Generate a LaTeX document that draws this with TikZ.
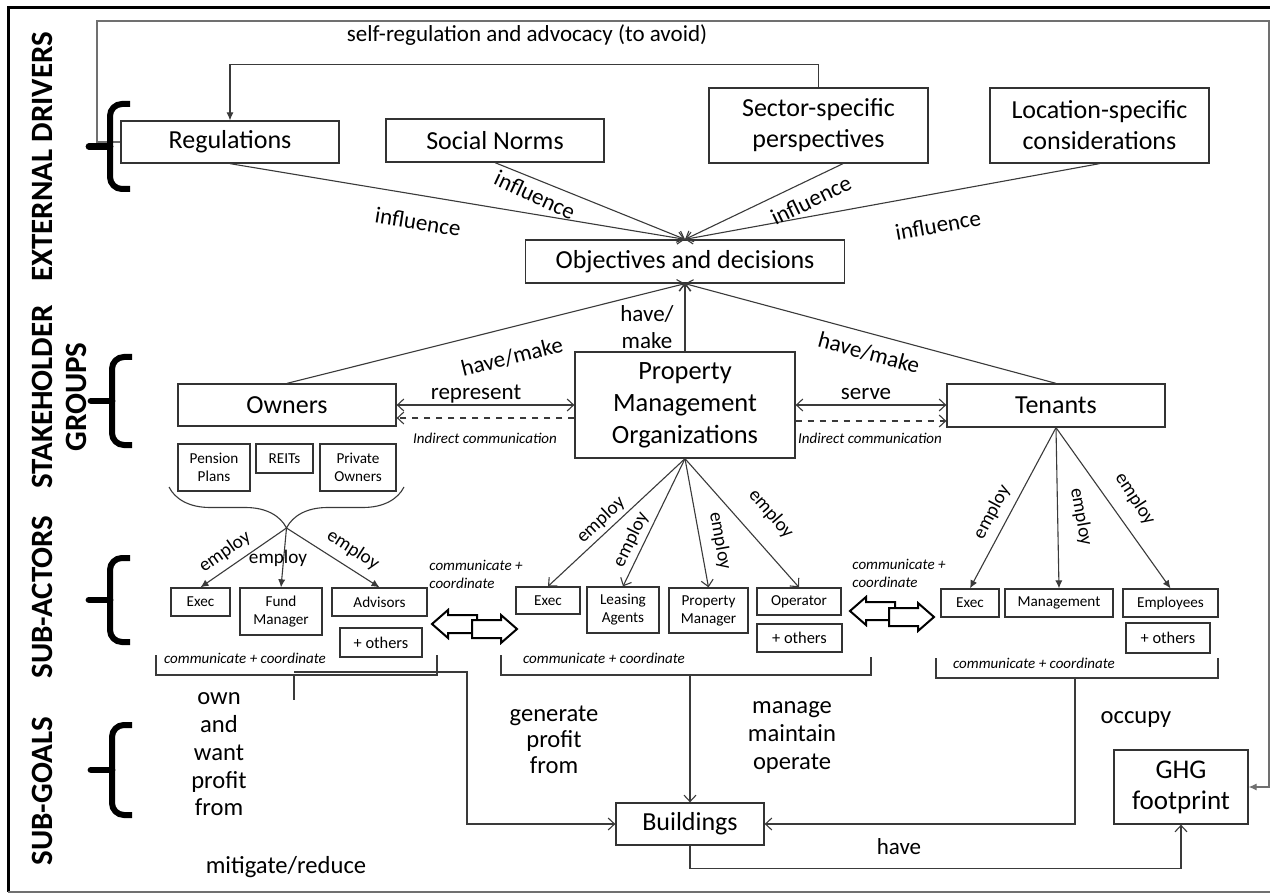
\documentclass[tikz,border=0pt]{standalone}
\usepackage{fontspec}
\setmainfont{Carlito}
\usetikzlibrary{arrows.meta,calc,decorations.pathreplacing}
\definecolor{boxc}{HTML}{333333}
\definecolor{edge}{HTML}{3A3A3A}
\definecolor{fbline}{HTML}{707070}
\begin{document}
\begin{tikzpicture}[x=0.5pt,y=-0.5pt,
  box/.style={draw=boxc, line width=0.65pt, inner sep=0pt, align=center,
    font=\fontsize{13}{15.5}\selectfont},
  sbox/.style={box, font=\fontsize{7.6}{9}\selectfont},
  obox/.style={box, font=\fontsize{8.2}{9.5}\selectfont},
  lbl/.style={inner sep=0pt, font=\fontsize{11.5}{13.5}\selectfont, align=center},
  emp/.style={inner sep=0pt, font=\fontsize{9.6}{11}\selectfont},
  itl/.style={inner sep=0pt, font=\fontsize{7.5}{9}\selectfont\itshape, align=left},
  goal/.style={inner sep=0pt, font=\fontsize{12.3}{14}\selectfont, align=center},
  side/.style={inner sep=0pt, rotate=90, align=center,
    font=\fontsize{15.5}{17}\selectfont\bfseries},
  conn/.style={draw=edge, line width=0.55pt},
  fb/.style={draw=fbline, line width=0.6pt},
  open/.style={-{Straight Barb[length=3.2pt,width=6pt]}},
  twoopen/.style={{Straight Barb[length=3.2pt,width=6pt]}-{Straight Barb[length=3.2pt,width=6pt]}},
  solid tip/.style={-{Latex[length=4pt,width=3.6pt]}},
  bracketline/.style={draw=edge, line width=0.6pt},
  rowbrace/.pic={
    \draw[black, line width=3pt, rounded corners=6pt]
      (20,-#1) -- (0,-#1) -- (0,#1) -- (20,#1);
    \draw[black, line width=3.4pt, line cap=round] (0,0) -- (-21,0);},
  blockarrow/.pic={\draw[black, line width=1pt, fill=white, line join=miter]
    (0,-9) -- (29,-9) -- (29,-14) -- (45,0) -- (29,14) -- (29,9) -- (0,9) -- cycle;}
]
\fill[white] (0,0) rectangle (1270,893);
\useasboundingbox (0,0) rectangle (1270,893);

% outer frame
\draw[black, line width=1.5pt] (1270,8) -- (8,8) -- (8,892);
\draw[fbline, line width=0.6pt] (8,892) -- (1270,892);

% row labels
\node[side] (lab1) at (42,157) {EXTERNAL DRIVERS};
\node[side] (lab2) at (59,397) {STAKEHOLDER\\GROUPS};
\node[side] (lab3) at (42,597) {SUB-ACTORS};
\node[side] (lab4) at (42,791) {SUB-GOALS};

% external drivers
\node[box, minimum width=109pt, minimum height=21pt] (reg) at (230,142) {Regulations};
\node[box, minimum width=109pt, minimum height=21.5pt] (soc) at (495,140.5) {Social Norms};
\node[box, minimum width=109.5pt, minimum height=37.5pt] (sec) at (818.5,125.5) {Sector-specific\\perspectives};
\node[box, minimum width=109.5pt, minimum height=37.5pt] (loc) at (1099.5,125.5) {Location-specific\\considerations};
\node[box, minimum width=159.5pt, minimum height=21.5pt] (obj) at (685,261.5) {Objectives and decisions};

% stakeholder groups
\node[box, minimum width=109pt, minimum height=21pt] (own) at (287,405) {Owners};
\node[box, minimum width=110pt, minimum height=53pt, font=\fontsize{13.2}{16}\selectfont] (pmo) at (685,405) {Property\\Management\\Organizations};
\node[box, minimum width=109pt, minimum height=21.5pt] (ten) at (1056,405.5) {Tenants};

% owner types
\node[sbox, minimum width=36pt, minimum height=23.5pt] (pen) at (214,467.5) {Pension\\Plans};
\node[sbox, minimum width=28.5pt, minimum height=14.5pt] (reit) at (284.5,458.5) {REITs};
\node[sbox, minimum width=38pt, minimum height=23.5pt] (priv) at (358,467.5) {Private\\Owners};

% sub-actors
\node[sbox, minimum width=29.5pt, minimum height=14pt] (oexec) at (200.5,602) {Exec};
\node[sbox, minimum width=41pt, minimum height=23.5pt] (fund) at (281,611.5) {Fund\\Manager};
\node[sbox, minimum width=47.5pt, minimum height=14pt] (adv) at (379.5,602) {Advisors};
\node[obox, minimum width=41pt, minimum height=14.5pt] (ooth) at (381,642.5) {+ others};

\node[sbox, minimum width=32pt, minimum height=13.5pt] (pexec) at (548,600.5) {Exec};
\node[sbox, minimum width=36pt, minimum height=23pt] (leas) at (623,610) {Leasing\\Agents};
\node[sbox, minimum width=39.5pt, minimum height=22.5pt] (pman) at (708.5,610.5) {Property\\Manager};
\node[sbox, minimum width=42pt, minimum height=13.5pt] (oper) at (799,601.5) {Operator};
\node[obox, minimum width=42.5pt, minimum height=14pt] (poth) at (799.5,638) {+ others};

\node[sbox, minimum width=29pt, minimum height=14pt] (texec) at (970,603) {Exec};
\node[sbox, minimum width=54pt, minimum height=14pt] (tman) at (1059,603) {Management};
\node[sbox, minimum width=47.5pt, minimum height=14pt] (temp) at (1170.5,603) {Employees};
\node[obox, minimum width=42pt, minimum height=15pt] (toth) at (1168,638) {+ others};

% sub-goals
\node[box, minimum width=74pt, minimum height=21pt] (bld) at (690,824) {Buildings};
\node[box, minimum width=67pt, minimum height=37pt, font=\fontsize{13.5}{15.5}\selectfont] (ghg) at (1181,787) {GHG\\footprint};

% feedback loops
\draw[fb, solid tip] (reg.west) -- (97,142) |- (1269,21) |- (ghg.east);
\node[lbl] (selfreg) at (527,35) {self-regulation and advocacy (to avoid)};
\draw[conn, solid tip] (sec.north) -- ++(0,-23) -| (reg.north);

% row braces
\pic at (110,146.5) {rowbrace=42.5};
\pic at (112,401) {rowbrace=44};
\pic at (110,600) {rowbrace=42};
\pic at (112,770) {rowbrace=45};

% influences
\draw[conn, open] (reg.south) -- (obj.north);
\draw[conn, open] (soc.south) -- (obj.north);
\draw[conn, open] ($(sec.south)+(24.5,0)$) -- (obj.north);
\draw[conn, open] (loc.south) -- (obj.north);
\node[lbl, rotate=-9] (inf1) at (418,222) {influence};
\node[lbl, rotate=-25] (inf2) at (535,195) {influence};
\node[lbl, rotate=26] (inf3) at (811,200) {influence};
\node[lbl, rotate=10] (inf4) at (938,225) {influence};

% have/make
\draw[conn, open] (own.north) -- (obj.south);
\draw[conn, open] (pmo.north) -- (obj.south);
\draw[conn, open] (ten.north) -- (obj.south);
\node[lbl, rotate=14] (hm1) at (512,357) {have/make};
\node[lbl] (hm2) at (647,327) {have/\\make};
\node[lbl, rotate=-15] (hm3) at (869,353) {have/make};

% represent / serve
\draw[conn, twoopen] (own.east) -- (pmo.west);
\draw[conn, dashed, open] ($(pmo.west)+(0,13)$) -- ($(own.east)+(0,13)$);
\node[lbl] (rep) at (476,394) {represent};
\node[itl] (ind1) at (485,438) {Indirect communication};
\draw[conn, twoopen] (pmo.east) -- (pmo.east -| ten.west);
\draw[conn, dashed, open] ($(pmo.east)+(0,16)$) -- ($(pmo.east -| ten.west)+(0,16)$);
\node[lbl] (srv) at (866,394) {serve};
\node[itl] (ind2) at (870,438) {Indirect communication};

% owners employ
\draw[conn, decorate, decoration={brace, amplitude=20.5pt}] (404,487) -- (169,487);
\coordinate (otip) at (286.5,528);
\draw[conn, solid tip] (otip) -- (oexec.north);
\draw[conn, solid tip] (otip) -- (fund.north);
\draw[conn, solid tip] (otip) -- (adv.north);
\node[emp, rotate=35] (e1) at (225,552) {employ};
\node[emp] (e2) at (278,558) {employ};
\node[emp, rotate=-33] (e3) at (353,550) {employ};

% PMO employ
\draw[conn, open] (pmo.south) -- (pexec.north);
\draw[conn, open] (pmo.south) -- (leas.north);
\draw[conn, open] (pmo.south) -- (pman.north);
\draw[conn, open] (pmo.south) -- (oper.north);
\node[emp, rotate=43] (e4) at (601,520) {employ};
\node[emp, rotate=64] (e5) at (631,540) {employ};
\node[emp, rotate=-80] (e6) at (720,541) {employ};
\node[emp, rotate=-49] (e7) at (771,514) {employ};

% tenants employ
\draw[conn, solid tip] (ten.south) -- (texec.north);
\draw[conn, solid tip] (ten.south) -- (tman.north);
\draw[conn, solid tip] (ten.south) -- (temp.north);
\node[emp, rotate=62] (e8) at (992,512) {employ};
\node[emp, rotate=-80] (e9) at (1081,517) {employ};
\node[emp, rotate=-57] (e10) at (1135,499) {employ};

% coordination between groups
\pic[xscale=-1] at (477,624) {blockarrow};
\pic at (472,629) {blockarrow};
\pic[xscale=-1] at (895,611) {blockarrow};
\pic at (889,617) {blockarrow};
\node[itl, anchor=west] (cc1) at (429,574.5) {communicate +\\coordinate};
\node[itl, anchor=west] (cc2) at (852,573) {communicate +\\coordinate};

% brackets under each group
\draw[bracketline] (156,655) |- (437,675) -- (437,655);
\node[itl] (cc3) at (245,658) {communicate + coordinate};
\draw[bracketline] (501,655) |- (871,675) -- (871,657);
\node[itl] (cc4) at (604,658) {communicate + coordinate};
\draw[bracketline] (936,658) |- (1218,678) -- (1218,658);
\node[itl] (cc5) at (1034,663) {communicate + coordinate};

% links to buildings
\coordinate (ostem) at (294,672);
\coordinate (pstem) at (690,675);
\coordinate (tstem) at (1075,678);
\draw[conn] (294,675) -- (294,700);
\draw[conn, open] (ostem) -- ++(173,0) |- (bld.west);
\draw[conn, open] (pstem) -- (bld.north);
\draw[conn, open] (tstem) |- (bld.east);
\draw[conn, open] (bld.south) -- ++(0,23) -| (ghg.south);

% sub-goal labels
\node[goal, font=\fontsize{12.3}{13.9}\selectfont] (g1) at (219,754.5) {own\\and\\want\\profit\\from};
\node[goal, font=\fontsize{12.3}{13}\selectfont] (g2) at (554,740) {generate\\profit\\from};
\node[goal, font=\fontsize{12.3}{14.2}\selectfont] (g3) at (792,737.5) {manage\\maintain\\operate};
\node[goal] (g4) at (1136,720) {occupy};
\node[goal] (g5) at (286,867) {mitigate/reduce};
\node[lbl] (g6) at (899,847) {have};
\end{tikzpicture}
\end{document}
